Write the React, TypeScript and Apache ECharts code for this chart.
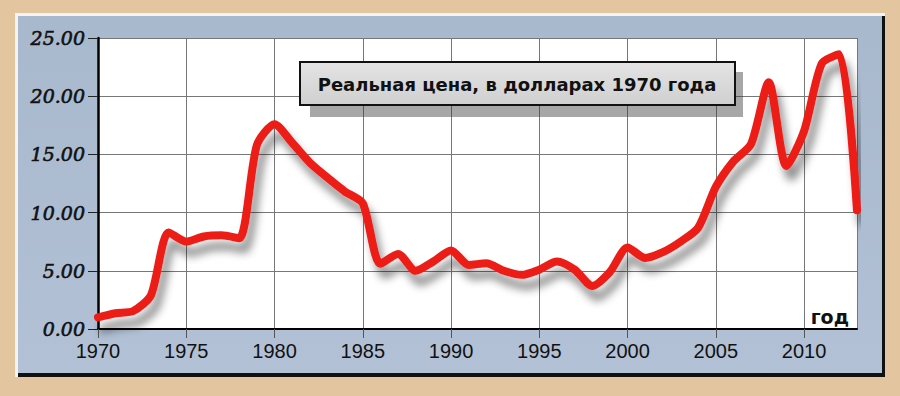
import React, { useEffect, useRef } from "react";
import * as echarts from "echarts";

const years = [
  1970, 1971, 1972, 1973, 1974, 1975, 1976, 1977, 1978, 1979,
  1980, 1981, 1982, 1983, 1984, 1985, 1986, 1987, 1988, 1989,
  1990, 1991, 1992, 1993, 1994, 1995, 1996, 1997, 1998, 1999,
  2000, 2001, 2002, 2003, 2004, 2005, 2006, 2007, 2008, 2009,
  2010, 2011, 2012, 2013,
];
const prices = [
  1.0, 1.35, 1.55, 2.9, 8.3, 7.5, 7.95, 8.05, 7.8, 15.8,
  17.6, 16.0, 14.3, 13.0, 11.8, 10.8, 5.6, 6.45, 5.0, 5.8,
  6.75, 5.5, 5.65, 5.0, 4.65, 5.1, 5.8, 5.1, 3.7, 4.9,
  7.0, 6.1, 6.6, 7.5, 8.7, 12.2, 14.4, 15.9, 21.2, 14.0,
  17.0, 22.8, 23.6, 10.2,
];
const yTicks = { min: 0, max: 25, step: 5 };
const xTicks = { min: 1970, max: 2013, step: 5 };
const titleText = "Реальная цена, в долларах 1970 года";
const axisName = "год";

export default function App() {
  const ref = useRef<HTMLDivElement>(null);
  useEffect(() => {
    document.body.style.margin = "0";
    if (!ref.current) return;
    const chart = echarts.init(ref.current, null, { renderer: "svg" });
    const data = years.map((y, i) => [y, prices[i]]);
    chart.setOption({
      animation: false,
      graphic: [
        { type: "rect", z: -10, silent: true, shape: { x: 0, y: 0, width: 900, height: 396 }, style: { fill: "#e3c5a0" } },
        { type: "rect", z: -9, silent: true, shape: { x: 15, y: 13, width: 870, height: 364 }, style: { fill: "#f4f4f4" } },
        { type: "rect", z: -8, silent: true, shape: { x: 18, y: 16, width: 867, height: 361 }, style: { fill: "#111111" } },
        {
          type: "rect", z: -7, silent: true, shape: { x: 18, y: 16, width: 864, height: 357 },
          style: {
            fill: new echarts.graphic.LinearGradient(0, 0, 0, 1, [
              { offset: 0, color: "#a8b8cd" },
              { offset: 1, color: "#b2c1d5" },
            ]),
          },
        },
        { type: "rect", z: 100, silent: true, shape: { x: 310, y: 72, width: 433, height: 45 }, style: { fill: "rgba(60,60,60,0.45)" } },
        {
          type: "rect", z: 101, silent: true, shape: { x: 300, y: 62, width: 435, height: 43 },
          style: {
            fill: new echarts.graphic.LinearGradient(0, 0, 0, 1, [
              { offset: 0, color: "#e4e4e4" },
              { offset: 1, color: "#cfcfcf" },
            ]),
            stroke: "#111", lineWidth: 2,
          },
        },
        {
          type: "text", z: 102, silent: true, x: 517, y: 84,
          style: {
            text: titleText, fill: "#111", font: "bold 18px 'DejaVu Sans', sans-serif",
            align: "center", verticalAlign: "middle",
          },
        },
        {
          type: "text", z: 102, silent: true, x: 849, y: 317,
          style: {
            text: axisName, fill: "#111", font: "bold 19px 'DejaVu Sans', sans-serif",
            align: "right", verticalAlign: "middle",
          },
        },
      ],
      grid: {
        left: 98, top: 38, right: 43, bottom: 67,
        show: true, backgroundColor: "#ffffff", borderWidth: 0,
      },
      xAxis: {
        type: "value",
        min: xTicks.min, max: xTicks.max, interval: xTicks.step,
        axisLine: { show: true, onZero: false, lineStyle: { color: "#000", width: 2 } },
        axisTick: { show: true, length: 9, lineStyle: { color: "#555", width: 1 } },
        axisLabel: {
          showMaxLabel: false, margin: 12, fontSize: 20, color: "#111",
          fontFamily: "'Liberation Sans', Arial, sans-serif",
          formatter: (v: number) => String(v),
        },
        splitLine: { show: true, lineStyle: { color: "#777", width: 1 } },
      },
      yAxis: {
        type: "value",
        min: yTicks.min, max: yTicks.max, interval: yTicks.step,
        axisLine: { show: true, lineStyle: { color: "#000", width: 2.5 } },
        axisTick: { show: true, length: 10, lineStyle: { color: "#222", width: 1 } },
        axisLabel: {
          margin: 13, fontSize: 19, color: "#111", fontStyle: "italic",
          fontFamily: "'DejaVu Serif', serif",
          textBorderColor: "#111", textBorderWidth: 0.6,
          verticalAlign: "middle", padding: [0, 0, 7, 0],
          formatter: (v: number) => v.toFixed(2),
        },
        splitLine: { show: true, lineStyle: { color: "#777", width: 1 } },
      },
      series: [
        {
          type: "line",
          data,
          clip: false,
          symbol: "none",
          smooth: 0.25,
          z: 5,
          lineStyle: {
            color: "#ec1c18", width: 8, cap: "round", join: "round",
            shadowColor: "rgba(0,0,0,0.45)", shadowBlur: 9, shadowOffsetX: 5, shadowOffsetY: 11,
          },
        },
      ],
    });
    return () => chart.dispose();
  }, []);
  return <div ref={ref} style={{ width: 900, height: 396 }} />;
}
